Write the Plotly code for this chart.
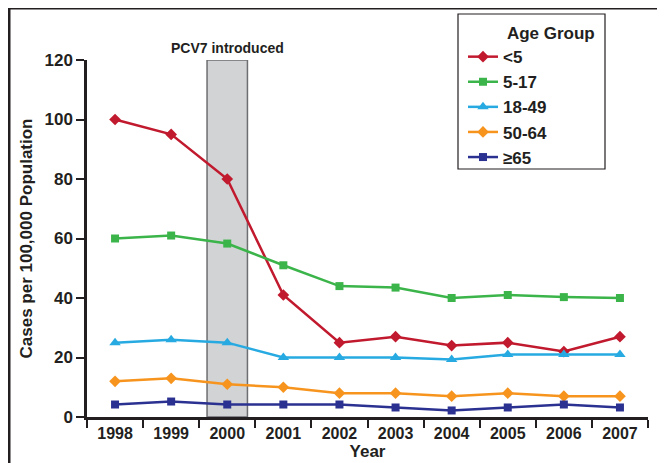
import plotly.graph_objects as go

years = ["1998", "1999", "2000", "2001", "2002", "2003", "2004", "2005", "2006", "2007"]
under5 = [100, 95, 80, 41, 25, 27, 24, 25, 22, 27]
age5_17 = [60, 61, 58.3, 51, 44, 43.5, 40, 41, 40.3, 40]
age18_49 = [25, 26, 25, 20, 20, 20, 19.3, 21, 21, 21]
age50_64 = [12, 13, 11, 10, 8, 8, 7, 8, 7, 7]
age65 = [4.2, 5.2, 4.2, 4.2, 4.2, 3.2, 2.2, 3.2, 4.2, 3.2]
y_ticks = [0, 20, 40, 60, 80, 100, 120]

series = [
    ("<5", under5, "#c1192d", "diamond", 9),
    ("5-17", age5_17, "#3bb44a", "square", 8),
    ("18-49", age18_49, "#27aae1", "triangle-up", 10),
    ("50-64", age50_64, "#f7941e", "diamond", 9),
    ("≥65", age65, "#2b3190", "square", 8),
]

W, H = 665, 463
OFF = 8  # page body margin offset
L, R, T, B = 87 - OFF, 648 - OFF, 60 - OFF, 417 - OFF

def px(xp):
    return (xp - OFF - L) / (R - L)

def py(yp):
    return (B - (yp - OFF)) / (B - T)

fig = go.Figure()
for name, vals, col, sym, sz in series:
    fig.add_trace(go.Scatter(
        x=years, y=vals, name=name, mode="lines+markers",
        line=dict(color=col, width=2.5),
        marker=dict(symbol=sym, size=sz, color=col),
    ))

font_family = "Liberation Sans, Arial, sans-serif"
ink = "#231f20"

fig.update_layout(
    width=W, height=H,
    margin=dict(l=L, r=W - R, t=T, b=H - B, autoexpand=False),
    paper_bgcolor="white", plot_bgcolor="white",
    font=dict(family=font_family, color=ink),
    showlegend=True,
    legend=dict(
        x=px(463), y=py(17), xanchor="left", yanchor="top",
        bgcolor="rgba(0,0,0,0)", borderwidth=0,
        font=dict(size=17, family=font_family, color=ink, weight="bold"),
        title=dict(text="         Age Group", font=dict(size=17, family=font_family, color=ink, weight="bold")),
        itemwidth=30,
    ),
    xaxis=dict(
        type="category", range=[-0.5, 9.5],
        showline=True, linecolor=ink, linewidth=2.5,
        ticks="outside", tickson="boundaries", ticklen=8, tickwidth=2, tickcolor=ink,
        tickfont=dict(size=16, family=font_family, color=ink, weight="bold"),
        showgrid=False, zeroline=False, automargin=False,
        title=dict(text="Year", font=dict(size=17, family=font_family, color=ink, weight="bold"), standoff=0),
    ),
    yaxis=dict(
        range=[0, 120], tickvals=y_ticks,
        showline=True, linecolor=ink, linewidth=2.5,
        ticks="outside", ticklen=8, tickwidth=2, tickcolor=ink,
        tickfont=dict(size=17, family=font_family, color=ink, weight="bold"),
        showgrid=False, zeroline=False, automargin=False,
        title=dict(text="Cases per 100,000 Population", font=dict(size=17, family=font_family, color=ink, weight="bold"), standoff=8),
    ),
    shapes=[
        dict(type="rect", xref="x", yref="y", x0=1.64, x1=2.36, y0=0, y1=120,
             fillcolor="#d1d3d4", line=dict(color="#6d6e71", width=1.5), layer="below"),
        dict(type="rect", xref="paper", yref="paper", x0=px(458), x1=px(605), y0=py(169), y1=py(14),
             fillcolor="rgba(0,0,0,0)", line=dict(color=ink, width=1.2)),
        dict(type="line", xref="paper", yref="paper", x0=px(8), x1=px(700), y0=py(8), y1=py(8),
             line=dict(color=ink, width=3)),
        dict(type="line", xref="paper", yref="paper", x0=px(9), x1=px(9), y0=py(8), y1=py(500),
             line=dict(color=ink, width=3)),
    ],
    annotations=[
        dict(text="PCV7 introduced", xref="x", yref="y", x=2, y=120, yanchor="bottom",
             showarrow=False, yshift=2,
             font=dict(size=14, family=font_family, color=ink, weight="bold")),
    ],
)

fig.write_html("out.html")
